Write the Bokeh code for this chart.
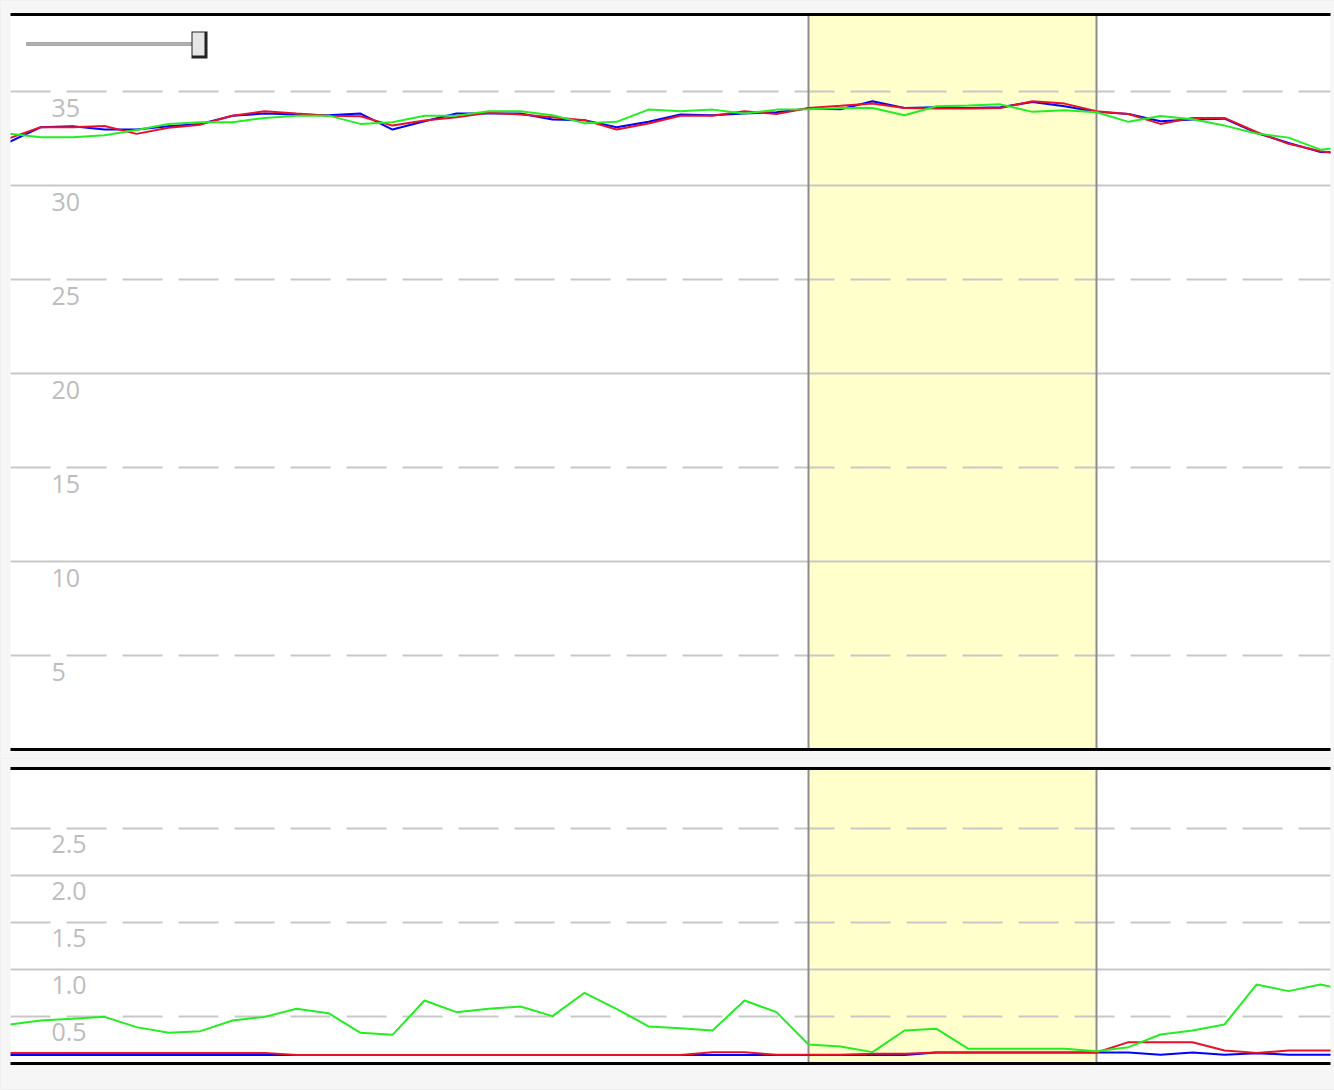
from bokeh.plotting import figure
from bokeh.models import (Range1d, LinearAxis, FixedTicker, Grid, BoxAnnotation, Span,
                          ColumnDataSource, GlobalInlineStyleSheet)
from bokeh.layouts import column
from bokeh.embed import file_html
from bokeh.resources import INLINE
from bokeh.core.properties import value

# ---------------- data ----------------
sample = list(range(43))

top_blue = [32.3, 33.10, 33.16, 32.98, 32.98, 33.16, 33.28, 33.71, 33.83, 33.78, 33.74, 33.83, 32.98, 33.42,
            33.83, 33.83, 33.83, 33.51, 33.48, 33.10, 33.39, 33.78, 33.74, 33.83, 33.90, 34.10, 34.06, 34.49,
            34.13, 34.17, 34.13, 34.17, 34.45, 34.22, 33.92, 33.81, 33.42, 33.51, 33.56, 32.80, 32.27, 31.79, 31.75]
top_red = [32.5, 33.10, 33.10, 33.17, 32.75, 33.07, 33.24, 33.71, 33.95, 33.83, 33.72, 33.69, 33.19, 33.46,
           33.64, 33.87, 33.78, 33.64, 33.48, 32.98, 33.30, 33.71, 33.71, 33.95, 33.81, 34.13, 34.24, 34.36,
           34.13, 34.10, 34.10, 34.13, 34.49, 34.36, 33.95, 33.81, 33.28, 33.60, 33.60, 32.85, 32.22, 31.83, 31.6]
top_green = [32.76, 32.57, 32.57, 32.68, 32.96, 33.28, 33.37, 33.37, 33.60, 33.71, 33.72, 33.28, 33.37, 33.71,
             33.72, 33.95, 33.95, 33.74, 33.32, 33.39, 34.04, 33.95, 34.04, 33.83, 34.04, 34.06, 34.13, 34.13,
             33.74, 34.22, 34.26, 34.32, 33.92, 34.00, 33.90, 33.39, 33.70, 33.53, 33.19, 32.77, 32.55, 31.91, 32.1]

bot_blue = [0.09] * 29 + [0.117] * 7 + [0.092, 0.117, 0.092, 0.11, 0.092, 0.092, 0.095]
bot_red = ([0.113] * 9 + [0.09] * 13 + [0.12, 0.12] + [0.092] * 3 + [0.105, 0.105] + [0.117] * 6
           + [0.227, 0.227, 0.227, 0.138, 0.113, 0.138, 0.138, 0.138])
bot_green = [0.412, 0.457, 0.475, 0.496, 0.387, 0.326, 0.344, 0.457, 0.496, 0.582,
             0.535, 0.326, 0.305, 0.670, 0.546, 0.582, 0.606, 0.504, 0.752, 0.582,
             0.394, 0.376, 0.351, 0.670, 0.546, 0.202, 0.181, 0.121, 0.351, 0.369,
             0.156, 0.156, 0.156, 0.156, 0.131, 0.174, 0.309, 0.351, 0.415, 0.840,
             0.770, 0.840, 0.77]

highlight_start, highlight_end = 25, 34

top_major = [10, 20, 30]
top_minor = [5, 15, 25, 35]
top_label_values = [5, 10, 15, 20, 25, 30, 35]
top_labels = ["5", "10", "15", "20", "25", "30", "35"]

bot_major = [1.0, 2.0]
bot_minor = [0.5, 1.5, 2.5]
bot_label_values = [0.5, 1.0, 1.5, 2.0, 2.5]
bot_labels = ["0.5", "1.0", "1.5", "2.0", "2.5"]

# ---------------- styling / layout ----------------
X_START, X_END = 0.0625, 41.3125
TOP_Y = (0, 39.1)
BOT_Y = (0, 3.138)
FRAME_W = 1320

BLUE = "#0000ff"
RED = "#e8102a"
GREEN = "#22ee22"
GRID = "#c8c8c8"
LABEL = "#bdbdbd"
BAND = "#ffffcc"
BAND_EDGE = "#8c8c8c"
BORDER = "#f6f6f6"


def make_panel(frame_h, yr, major, minor, lab_vals, labs, series, top_border, bottom_border):
    p = figure(frame_width=FRAME_W, frame_height=frame_h,
               x_range=Range1d(X_START, X_END), y_range=Range1d(*yr),
               x_axis_location=None, y_axis_location=None,
               toolbar_location=None, output_backend="svg",
               min_border_left=10, min_border_right=4,
               min_border_top=top_border, min_border_bottom=bottom_border,
               background_fill_color="white", border_fill_color=BORDER,
               outline_line_color=None)
    p.grid.visible = False

    p.add_layout(BoxAnnotation(left=highlight_start, right=highlight_end, fill_color=BAND,
                               fill_alpha=1, line_color=None, level="image"))
    p.add_layout(Grid(dimension=1, ticker=FixedTicker(ticks=major, minor_ticks=minor),
                      grid_line_color=GRID, grid_line_width=2,
                      minor_grid_line_color=GRID, minor_grid_line_width=2,
                      minor_grid_line_dash="40 16"))
    for loc in (highlight_start, highlight_end):
        p.add_layout(Span(location=loc, dimension="height", line_color=BAND_EDGE,
                          line_width=2, level="underlay"))
    for place in ("above", "below"):
        ax = LinearAxis(ticker=FixedTicker(ticks=[]), axis_line_color="black", axis_line_width=3,
                        major_tick_out=0, major_tick_in=0, minor_tick_out=0, minor_tick_in=0,
                        major_label_text_font_size="0px", major_label_standoff=0)
        p.add_layout(ax, place)

    src = ColumnDataSource(dict(x=[X_START] * len(lab_vals), y=lab_vals, t=labs))
    p.text(x="x", y="y", text="t", source=src, x_offset=41, y_offset=16,
           text_font=value("Open Sans"), text_font_size="25px", text_color=LABEL,
           text_baseline="alphabetic", text_align="left")
    for ys, c in series:
        p.line(sample, ys, line_color=c, line_width=2)
    return p


TOP_FRAME_H = 735
BOT_FRAME_H = 295
top = make_panel(TOP_FRAME_H, TOP_Y, top_major, top_minor, top_label_values, top_labels,
                 [(top_blue, BLUE), (top_red, RED), (top_green, GREEN)], 14, 9)
bottom = make_panel(BOT_FRAME_H, BOT_Y, bot_major, bot_minor, bot_label_values, bot_labels,
                    [(bot_blue, BLUE), (bot_red, RED), (bot_green, GREEN)], 10, 26)

# ---- decorative range-slider widget (page pixel geometry -> data coords) ----
FRAME_LEFT_PX, TOP_FRAME_TOP_PX = 10, 14


def px_x(px):
    return X_START + (px - FRAME_LEFT_PX) / 32.0


def px_y_top(py):
    return TOP_Y[1] - (py - TOP_FRAME_TOP_PX) * (TOP_Y[1] / TOP_FRAME_H)


def add_box(x0, y0, x1, y1, fill, line=None):
    top.add_layout(BoxAnnotation(left=px_x(x0), right=px_x(x1), top=px_y_top(y0), bottom=px_y_top(y1),
                                 fill_color=fill, fill_alpha=1, line_color=line, line_width=1))


add_box(26, 42, 192, 45, "#b0b0b0", "#333333")
add_box(191, 31, 207, 58, "#222222")
add_box(192, 32, 204, 55, "#e6e6e6")

layout = column(top, bottom, spacing=0,
                stylesheets=[GlobalInlineStyleSheet(css="html, body { background: #eeeeee; margin: 0; }")])

open("out.html", "w").write(file_html(layout, INLINE))
